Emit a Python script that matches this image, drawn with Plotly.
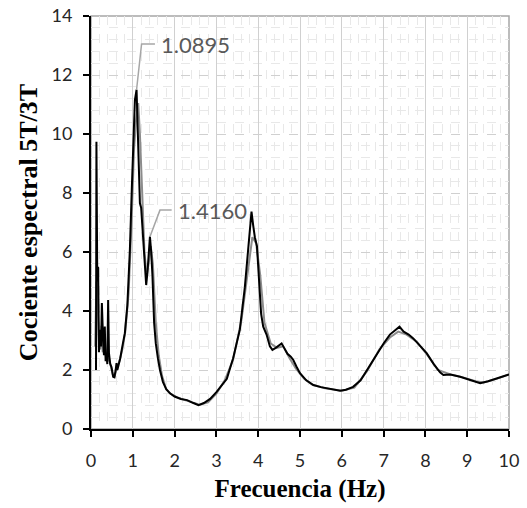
import plotly.graph_objects as go

# Serie principal (negra)
freq_a = [0.12, 0.13, 0.15, 0.17, 0.19, 0.22, 0.24, 0.26, 0.29, 0.31, 0.33, 0.35, 0.37, 0.39,
          0.41, 0.43, 0.46, 0.49, 0.53, 0.56, 0.59, 0.61, 0.63, 0.65, 0.7, 0.75, 0.81, 0.87,
          0.93, 0.98, 1.01, 1.05, 1.09, 1.11, 1.14, 1.17, 1.2, 1.24, 1.28, 1.32, 1.35, 1.38,
          1.41, 1.44, 1.47, 1.51, 1.55, 1.6, 1.65, 1.72, 1.8, 1.89, 2.0, 2.15, 2.3, 2.45, 2.57,
          2.7, 2.85, 3.0, 3.12, 3.25, 3.4, 3.56, 3.68, 3.78, 3.84, 3.88, 3.92, 3.97, 4.02, 4.07,
          4.12, 4.2, 4.28, 4.34, 4.42, 4.5, 4.56, 4.62, 4.7, 4.78, 4.84, 4.92, 5.0, 5.15, 5.32,
          5.5, 5.7, 5.96, 6.1, 6.27, 6.45, 6.6, 6.8, 7.0, 7.15, 7.28, 7.38, 7.48, 7.6, 7.71,
          7.85, 8.03, 8.2, 8.35, 8.43, 8.6, 8.83, 9.0, 9.15, 9.31, 9.5, 9.7, 9.85, 10.0]
ratio_a = [2.0, 9.74, 5.0, 5.5, 2.6, 3.36, 2.8, 4.27, 3.0, 2.5, 3.47, 2.3, 2.57, 2.2,
           4.37, 2.57, 2.2, 2.1, 1.77, 1.75, 2.0, 2.23, 2.0, 2.1, 2.4, 2.8, 3.25, 4.2,
           6.07, 8.3, 9.46, 11.15, 11.5, 10.6, 8.5, 7.65, 7.5, 6.6, 5.5, 4.88, 5.3, 5.8,
           6.52, 6.0, 5.2, 3.6, 2.9, 2.4, 2.0, 1.6, 1.35, 1.21, 1.1, 1.02, 0.98, 0.88, 0.81,
           0.88, 1.02, 1.25, 1.45, 1.7, 2.4, 3.36, 4.8, 6.5, 7.37, 6.9, 6.5, 6.2, 5.0, 3.9,
           3.47, 3.2, 2.8, 2.68, 2.75, 2.85, 2.9, 2.75, 2.55, 2.45, 2.34, 2.1, 1.89, 1.65, 1.49,
           1.42, 1.36, 1.3, 1.33, 1.43, 1.65, 2.0, 2.45, 2.9, 3.2, 3.35, 3.47, 3.3, 3.2, 3.07,
           2.85, 2.57, 2.2, 1.92, 1.83, 1.85, 1.77, 1.7, 1.62, 1.55, 1.62, 1.7, 1.78, 1.85]

# Serie secundaria (gris)
freq_b = [0.1, 0.13, 0.16, 0.19, 0.22, 0.25, 0.28, 0.31, 0.35, 0.39, 0.43, 0.47, 0.52, 0.57,
          0.62, 0.68, 0.75, 0.82, 0.9, 0.97, 1.03, 1.08, 1.13, 1.17, 1.22, 1.28, 1.33, 1.38,
          1.43, 1.48, 1.55, 1.62, 1.7, 1.8, 1.9, 2.05, 2.25, 2.45, 2.6, 2.8, 3.0, 3.2, 3.4,
          3.6, 3.75, 3.86, 3.95, 4.05, 4.15, 4.3, 4.45, 4.6, 4.75, 4.9, 5.1, 5.3, 5.6, 6.0,
          6.3, 6.6, 6.9, 7.15, 7.35, 7.55, 7.8, 8.05, 8.3, 8.6, 8.9, 9.2, 9.4, 9.7, 10.0]
ratio_b = [2.8, 5.0, 4.2, 3.0, 2.7, 3.5, 2.6, 3.1, 2.5, 2.3, 2.4, 2.1, 1.85, 1.8,
           2.1, 2.3, 2.7, 3.3, 4.6, 7.0, 9.5, 10.5, 11.05, 10.0, 8.0, 6.0, 5.2, 5.6,
           6.2, 5.6, 3.6, 2.5, 1.8, 1.35, 1.2, 1.08, 0.98, 0.88, 0.82, 0.9, 1.2, 1.65, 2.35,
           3.7, 5.3, 6.5, 6.3, 5.2, 3.6, 2.9, 2.75, 2.8, 2.4, 2.05, 1.7, 1.5, 1.38, 1.3,
           1.4, 1.95, 2.7, 3.1, 3.3, 3.2, 2.95, 2.5, 2.0, 1.85, 1.75, 1.62, 1.58, 1.7, 1.85]

# Etiquetas de picos
peak_freq = [1.09, 1.41]
peak_val = [11.5, 6.52]
peak_text = ["1.0895", "1.4160"]

x_ticks = list(range(0, 11))
y_ticks = list(range(0, 15, 2))

fig = go.Figure()

fig.add_trace(go.Scatter(x=freq_b, y=ratio_b, mode='lines',
                         line=dict(color='#8c8c8c', width=2), showlegend=False))
fig.add_trace(go.Scatter(x=freq_a, y=ratio_a, mode='lines',
                         line=dict(color='black', width=2), showlegend=False))

# Líneas guía de las etiquetas (codo)
elbow = [(0.12, 1.55, 0.44), (0.24, 0.9, 0.52)]
for f, v, txt, (dx, dy, dh) in zip(peak_freq, peak_val, peak_text, elbow):
    fig.add_trace(go.Scatter(x=[f, f + dx, f + dh], y=[v, v + dy, v + dy], mode='lines',
                             line=dict(color='#a6a6a6', width=1.5), showlegend=False,
                             hoverinfo='skip'))
    fig.add_annotation(x=f + dh + 0.1, y=v + dy, text=txt, showarrow=False,
                       xanchor='left', yanchor='middle',
                       font=dict(family='Lato', size=22, color='#595959'))

# Marco gris (borde superior y derecho)
fig.add_shape(type='rect', xref='x domain', yref='y domain', x0=0, x1=1, y0=0, y1=1,
              line=dict(color='#a6a6a6', width=1.5), layer='below')

fig.update_xaxes(
    range=[0, 10], tickvals=x_ticks, ticks='outside', ticklen=6, tickwidth=1.5,
    tickcolor='black', showline=True, linecolor='black', linewidth=2,
    showgrid=True, gridcolor='#d0d0d0', gridwidth=1,
    minor=dict(dtick=0.2, showgrid=True, gridcolor='#e8e8e8', griddash='dash'),
    tickfont=dict(family='Lato', size=18, color='#262626'), ticklabelstandoff=8,
    ticklabeloverflow='allow',
    title=dict(text='<b>Frecuencia (Hz)</b>', standoff=10,
               font=dict(family='Liberation Serif', size=25, color='black')),
    zeroline=False, automargin=False,
)
fig.update_yaxes(
    range=[0, 14], tickvals=y_ticks, ticks='outside', ticklen=6, tickwidth=1.5,
    tickcolor='black', showline=True, linecolor='black', linewidth=2,
    showgrid=True, gridcolor='#d0d0d0', gridwidth=1, griddash='dash',
    minor=dict(dtick=0.4, showgrid=True, gridcolor='#e8e8e8', griddash='dash'),
    tickfont=dict(family='Lato', size=18, color='#262626'), ticklabelstandoff=7,
    ticklabeloverflow='allow',
    title=dict(text='<b>Cociente espectral 5T/3T</b>', standoff=6,
               font=dict(family='Liberation Serif', size=26, color='black')),
    zeroline=False, automargin=False,
)

fig.update_layout(
    width=527, height=508,
    margin=dict(l=91, r=18, t=16, b=79),
    plot_bgcolor='white', paper_bgcolor='white',
)

# Quita el margen por defecto del <body> para que la figura ocupe toda la ventana
fig.write_html("out.html", config={'displayModeBar': False},
               post_script="document.body.style.margin='0';")
